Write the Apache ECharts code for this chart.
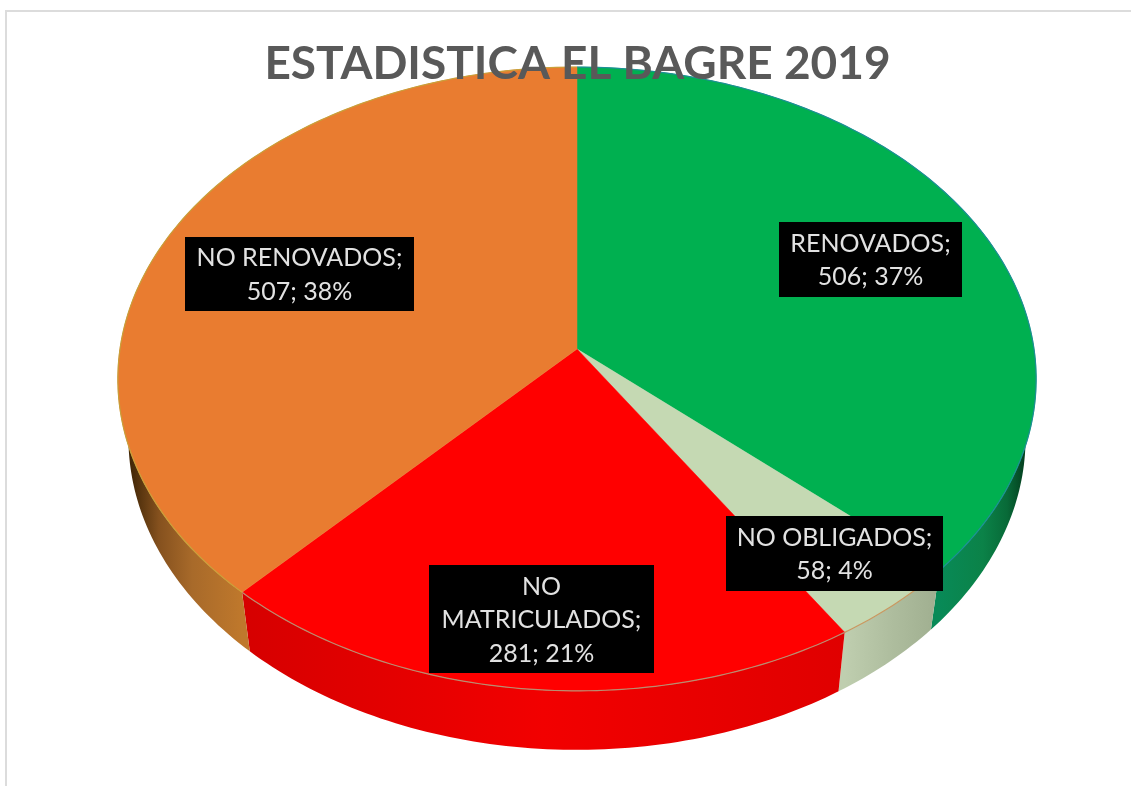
<!DOCTYPE html>
<html>
<head>
<meta charset="utf-8">
<script src="https://cdn.jsdelivr.net/npm/echarts@6/dist/echarts.min.js"></script>
<style>html,body{margin:0;padding:0;background:#fff}#c{width:1131px;height:786px}</style>
</head>
<body>
<div id="c"></div>
<script>
// Data, clockwise from 12 o'clock
const categories = ['RENOVADOS', 'NO OBLIGADOS', 'NO MATRICULADOS', 'NO RENOVADOS'];
const values = [506, 58, 281, 507];
const titleText = 'ESTADISTICA EL BAGRE 2019';

// Styling, by slice
const topColors = ['#00b050', '#c5d9b3', '#ff0000', '#e97c30'];
const rimColors = ['#1d8f96', '#c9975f', '#b98d70', '#c9a03a'];
const wallStops = [
  [[0, '#088a57'], [0.45, '#0b8248'], [0.7, '#086a38'], [0.88, '#04401f'], [1, '#02281a']],
  [[0, '#bfceaf'], [0.5, '#aebd9e'], [1, '#9fae8f']],
  [[0, '#d60000'], [0.5, '#f20000'], [1, '#e00000']],
  [[0, '#2a1800'], [0.13, '#4a2c0a'], [0.33, '#85511e'], [0.6, '#a86a2a'], [1, '#bf782c']]
];
const wrapped = { 'NO MATRICULADOS': ['NO', 'MATRICULADOS;'] };
const boxes = [
  [779, 222, 183, 75],
  [726, 516, 217, 75],
  [429, 565, 225, 108],
  [185, 237, 229, 74]
];

// Projection of the tilted disc
const APEX = [577, 349], A = 457, B = 309, K = 0.0961, DEPTH = 59, SHRINK = 0.977;
const total = values.reduce((a, b) => a + b, 0);
const cum = values.reduce((acc, v) => { acc.push(acc[acc.length - 1] + v); return acc; }, [0]);
const angleOf = v => v / total * 2 * Math.PI;
function warp(t) { // view correction of the 3D pie
  return t - (2.73 * (1 - Math.cos(t)) / 2 + 0.39 * Math.sin(t)) * Math.PI / 180;
}
function project(t, low) {
  const w = warp(t), u = Math.sin(w), v = -Math.cos(w), d = 1 - K * v;
  let x = A * u / d, y = B * v / d;
  if (low) { x *= SHRINK; y += DEPTH; }
  return [APEX[0] + x, APEX[1] + y];
}
function arc(i, low) {
  const a = angleOf(cum[i]), b = angleOf(cum[i + 1]), n = Math.ceil((b - a) * 60), pts = [];
  for (let j = 0; j <= n; j++) pts.push(project(a + (b - a) * j / n, low));
  return pts;
}
function wallItem(params) {
  const i = params.dataIndex, top = arc(i, false), low = arc(i, true).reverse();
  // the gradient spans only the part of the wall that shows below the disc's waist
  const xs = top.filter(p => p[1] > APEX[1] + 29).map(p => p[0]);
  const x0 = Math.min.apply(null, xs), x1 = Math.max.apply(null, xs);
  return { type: 'polygon', shape: { points: top.concat(low) }, style: {
    fill: new echarts.graphic.LinearGradient(x0, 0, x1, 0,
      wallStops[i].map(s => ({ offset: s[0], color: s[1] })), true)
  } };
}
function topItem(params) {
  const i = params.dataIndex, rim = arc(i, false);
  return { type: 'group', children: [
    { type: 'polygon', shape: { points: [APEX].concat(rim) }, style: { fill: topColors[i], stroke: topColors[i], lineWidth: 0.5 } },
    { type: 'polyline', shape: { points: rim }, style: { fill: null, stroke: rimColors[i], lineWidth: 1.2 } }
  ] };
}
function labelItem(params, api) {
  const i = params.dataIndex, v = api.value(0), name = categories[i], b = boxes[i];
  const pct = Math.round(v / total * 100);
  const lines = (wrapped[name] || [name + ';']).concat([v + '; ' + pct + '%']);
  return { type: 'group', children: [
    { type: 'rect', shape: { x: b[0], y: b[1], width: b[2], height: b[3] }, style: { fill: '#000' } },
    { type: 'text', style: { x: b[0] + b[2] / 2, y: b[1] + b[3] / 2 + 1, text: lines.join('\n'), fill: '#e2e2e2',
      font: '25px Lato', lineHeight: 33.5, align: 'center', verticalAlign: 'middle' } }
  ] };
}
const chart = echarts.init(document.getElementById('c'), null, { renderer: 'canvas' });
const custom = (render, z) => ({ type: 'custom', coordinateSystem: 'none', renderItem: render, data: values, z: z, silent: true, animation: false, clip: false });
chart.setOption({
  backgroundColor: '#fff',
  animation: false,
  tooltip: { show: false },
  title: { text: titleText, left: 572.5, top: 36, textAlign: 'center', z: 10,
    textStyle: { fontFamily: 'Lato', fontWeight: 'bold', fontSize: 46, color: '#595959' } },
  graphic: [
    { type: 'line', z: 1, shape: { x1: 5, y1: 11, x2: 1131, y2: 11 }, style: { stroke: '#dcdcdc', lineWidth: 2 } },
    { type: 'line', z: 1, shape: { x1: 6, y1: 10, x2: 6, y2: 786 }, style: { stroke: '#dcdcdc', lineWidth: 2 } }
  ],
  series: [custom(wallItem, 2), custom(topItem, 3), custom(labelItem, 4)]
});
</script>
</body>
</html>
